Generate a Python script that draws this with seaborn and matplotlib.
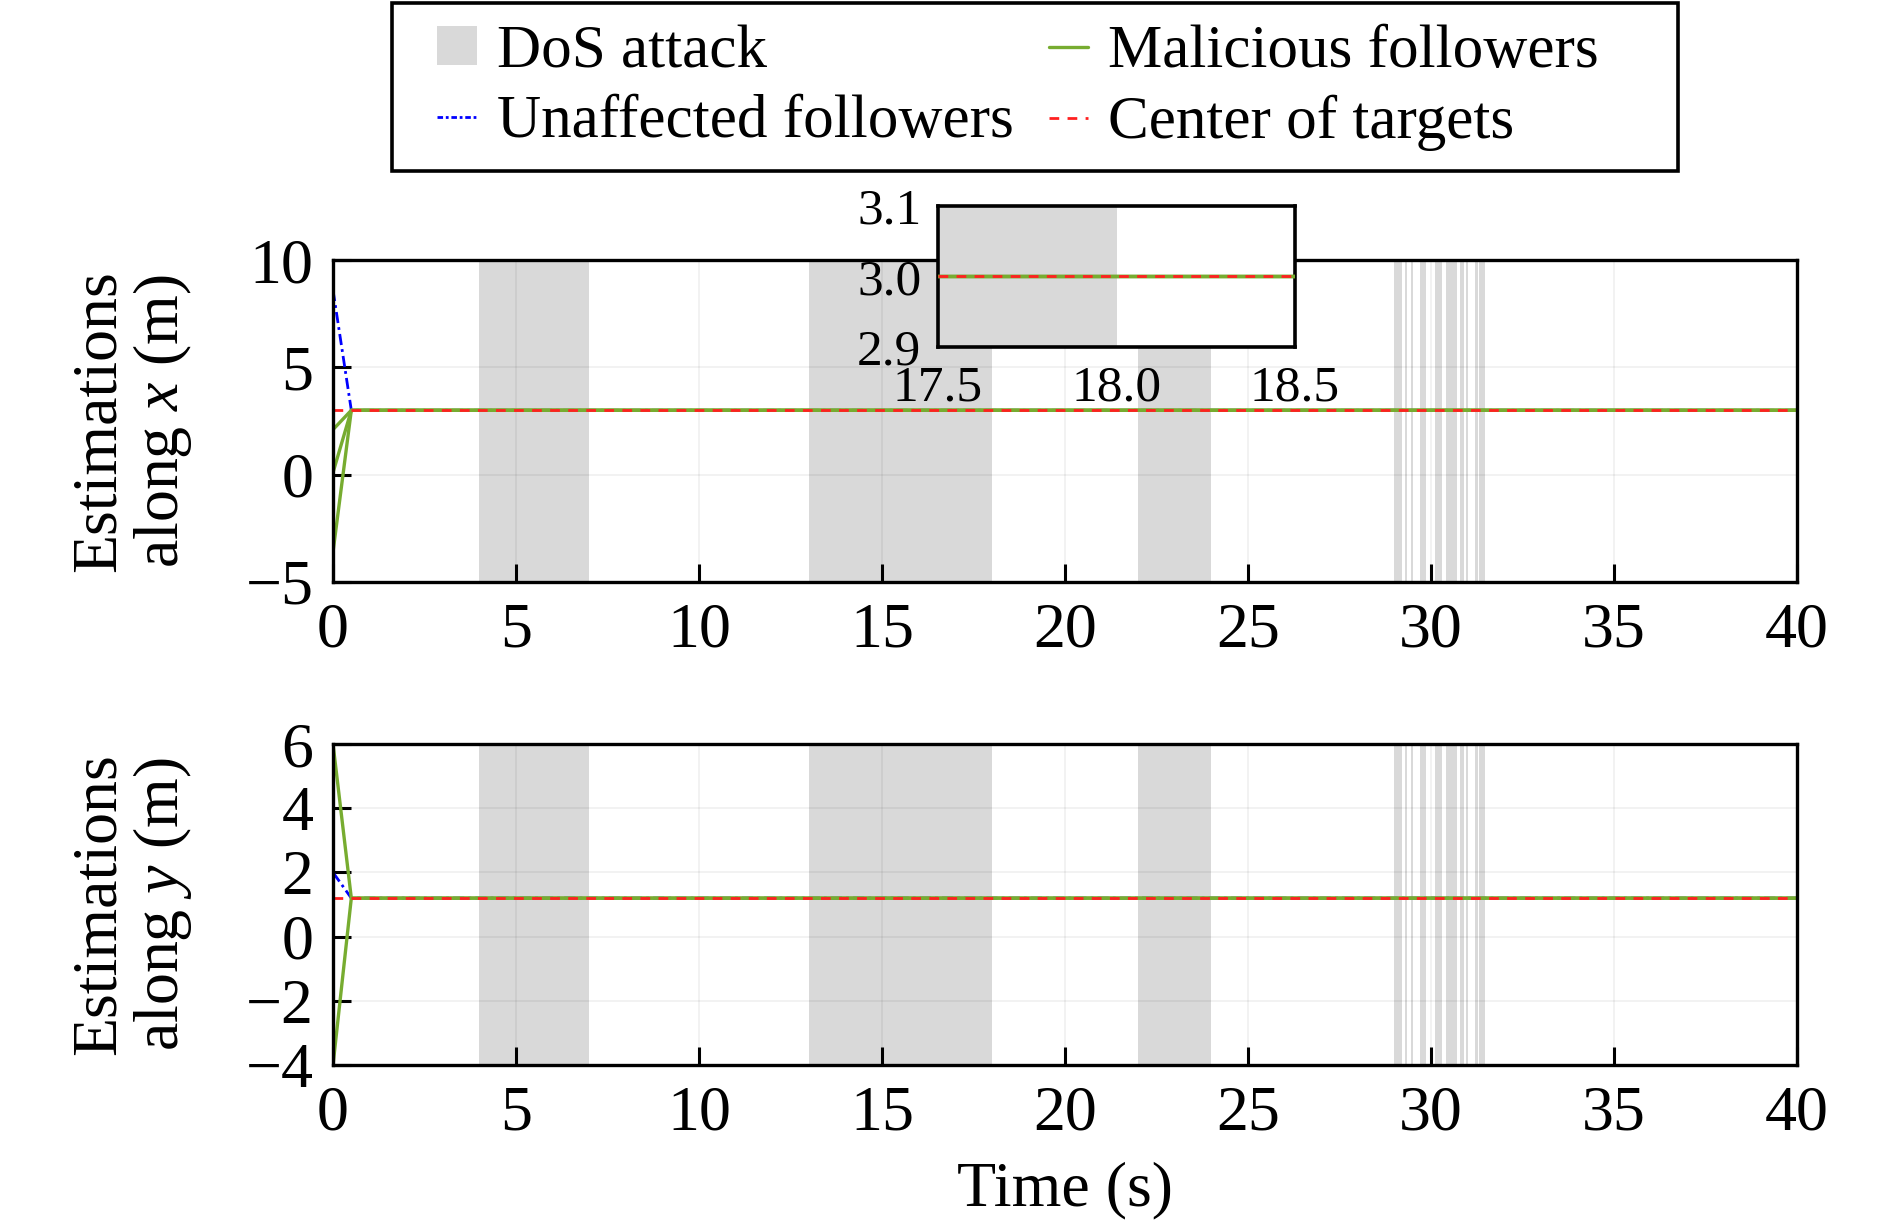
import numpy as np
import pandas as pd
import matplotlib
matplotlib.use('Agg')
import matplotlib.pyplot as plt
import seaborn as sns
from matplotlib.patches import Patch, Rectangle
from matplotlib.lines import Line2D

# ---- data ----
t = [0.0, 0.5, 40.0]
unaffected_x = [[8.6, 3.0, 3.0]]
malicious_x = [[2.1, 3.0, 3.0], [0.1, 3.0, 3.0], [-3.6, 3.0, 3.0]]
unaffected_y = [[2.0, 1.2, 1.2]]
malicious_y = [[6.0, 1.2, 1.2], [-4.0, 1.2, 1.2]]
center_x = 3.0
center_y = 1.2

dos_start = [4.0, 13.0, 22.0, 29.0, 29.3, 29.45, 29.7, 30.1, 30.4, 30.8, 30.95, 31.2, 31.32]
dos_end = [7.0, 18.0, 24.0, 29.2, 29.35, 29.52, 29.85, 30.3, 30.7, 30.9, 31.0, 31.28, 31.48]

xticks = [0, 5, 10, 15, 20, 25, 30, 35, 40]
yticks_x = [-5, 0, 5, 10]
yticks_y = [-4, -2, 0, 2, 4, 6]

GRAY = '#d9d9d9'
BLUE = '#0000ff'
GREEN = '#77ac30'
RED = '#ff2020'

sns.set_theme(style='white')
plt.rcParams['font.family'] = ['Liberation Serif', 'DejaVu Serif']
plt.rcParams['mathtext.fontset'] = 'custom'
plt.rcParams['mathtext.rm'] = 'Liberation Serif'
plt.rcParams['mathtext.it'] = 'Liberation Serif:italic'
plt.rcParams['axes.unicode_minus'] = True
for key in ['text.color', 'axes.labelcolor', 'xtick.color', 'ytick.color']:
    plt.rcParams[key] = 'black'

fig = plt.figure(figsize=(18.9, 12.26), dpi=100)
ax1 = fig.add_axes([0.1762, 0.5253, 0.7746, 0.2626])
ax2 = fig.add_axes([0.1762, 0.1313, 0.7746, 0.2618])


def long_df(series):
    rows = []
    for k, vals in enumerate(series):
        for tt, v in zip(t, vals):
            rows.append({'t': tt, 'v': v, 'unit': k})
    return pd.DataFrame(rows)


def draw(ax, unaff, mal, center, xlim):
    for s, e in zip(dos_start, dos_end):
        ax.axvspan(s, e, color=GRAY, lw=0, zorder=0)
    sns.lineplot(data=long_df(unaff), x='t', y='v', units='unit', estimator=None,
                 color=BLUE, lw=2.0, ax=ax, zorder=2,
                 linestyle=(0, (4, 1.5, 1, 1.5)))
    sns.lineplot(data=long_df(mal), x='t', y='v', units='unit', estimator=None,
                 color=GREEN, lw=2.4, ax=ax, zorder=3)
    sns.lineplot(x=[xlim[0], xlim[1]], y=[center, center], color=RED, lw=2.0,
                 ax=ax, zorder=4, linestyle=(0, (3.5, 3.0)))
    ax.set_xlim(*xlim)


def style(ax, yticks, ylabel):
    ax.set_xticks(xticks)
    ax.set_yticks(yticks)
    ax.set_ylim(yticks[0], yticks[-1])
    ax.grid(True, color='black', alpha=0.06, lw=1.2, zorder=1)
    ax.set_axisbelow(True)
    for sp in ax.spines.values():
        sp.set_color('black')
        sp.set_linewidth(2.4)
        sp.set_zorder(10)
    ax.tick_params(axis='both', direction='in', length=13, width=2.2,
                   labelsize=46, colors='black', bottom=True, left=True,
                   top=False, right=False)
    ax.tick_params(axis='x', pad=15)
    ax.tick_params(axis='y', pad=14)
    ax.set_ylabel(ylabel, fontsize=46, linespacing=1.05)
    ax.yaxis.set_label_coords(-0.095, 0.5)
    ax.set_xlabel('')


draw(ax1, unaffected_x, malicious_x, center_x, (0, 40))
style(ax1, yticks_x, 'Estimations\nalong $x$ (m)')
draw(ax2, unaffected_y, malicious_y, center_y, (0, 40))
style(ax2, yticks_y, 'Estimations\nalong $y$ (m)')
ax2.set_xlabel('Time (s)', fontsize=46)
ax2.xaxis.set_label_coords(0.5, -0.30)

# inset zoom of the x estimates
axin = fig.add_axes([0.4963, 0.7170, 0.1889, 0.1150])
axin.set_facecolor('white')
draw(axin, unaffected_x, malicious_x, center_x, (17.5, 18.5))
axin.set_ylim(2.9, 3.1)
axin.set_xticks([17.5, 18.0, 18.5])
axin.set_yticks([2.9, 3.0, 3.1])
axin.set_xticklabels(['17.5', '18.0', '18.5'])
axin.set_yticklabels(['2.9', '3.0', '3.1'])
axin.set_xlabel('')
axin.set_ylabel('')
for sp in axin.spines.values():
    sp.set_color('black')
    sp.set_linewidth(2.6)
axin.tick_params(axis='both', length=0, labelsize=37, colors='black')
axin.tick_params(axis='x', pad=13)
axin.tick_params(axis='y', pad=12)

handles = [
    Patch(facecolor=GRAY, edgecolor='none', label='DoS attack'),
    Line2D([], [], color=BLUE, lw=2.0, linestyle=(0, (2, 1, 1, 1)), label='Unaffected followers'),
    Line2D([], [], color=GREEN, lw=2.4, label='Malicious followers'),
    Line2D([], [], color=RED, lw=2.0, linestyle=(0, (3.5, 3.0)), label='Center of targets'),
]
fig.legend(handles=handles, loc='upper left', bbox_to_anchor=(0.2312, 0.980),
           ncol=2, fontsize=44, frameon=False, handlelength=0.65, handleheight=0.6,
           handletextpad=0.33, columnspacing=0.57, labelspacing=0.24,
           borderpad=0, borderaxespad=0)
fig.patches.append(Rectangle((392 / 1890, 1 - 171 / 1226), (1678 - 392) / 1890,
                             (171 - 3) / 1226, transform=fig.transFigure,
                             fill=False, edgecolor='black', lw=2.6))

fig.savefig('out.png', dpi=100)
